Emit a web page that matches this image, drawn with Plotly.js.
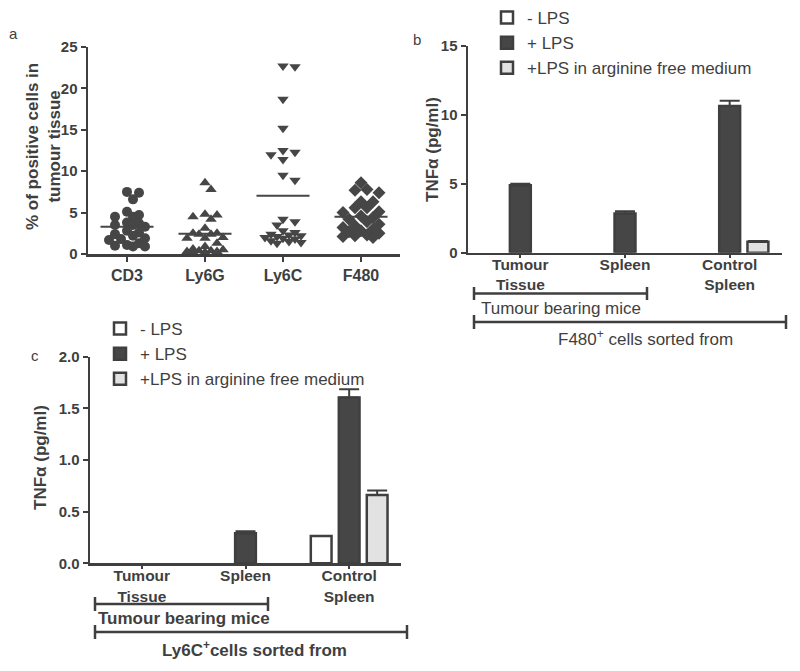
<!DOCTYPE html>
<html><head><meta charset="utf-8">
<script src="https://cdn.plot.ly/plotly-3.0.1.min.js"></script>
<style>html,body{margin:0;padding:0;background:#fff}#chart{width:800px;height:671px}</style>
</head><body><div id="chart"></div>
<script>
// ---------- Panel a data ----------
const aCategories = ['CD3', 'Ly6G', 'Ly6C', 'F480'];
const aCD3  = [7.5, 7.4, 6.6, 5.1, 4.7, 4.5, 4.5, 3.8, 3.7, 3.5, 3.5, 3.3, 2.8, 2.6, 2.4, 2.2, 1.9, 1.8, 1.7, 1.3, 1.1, 1.0, 0.9, 0.9];
const aLy6G = [8.6, 7.8, 4.8, 4.7, 4.5, 4.2, 3.1, 2.5, 2.5, 2.4, 2.4, 2.0, 1.9, 1.9, 1.3, 0.9, 0.6, 0.5, 0.4, 0.4, 0.3, 0.3, 0.2, 0.2];
const aLy6C = [22.7, 22.6, 18.7, 15.2, 12.5, 12.3, 12.0, 11.4, 9.5, 8.9, 4.2, 3.9, 3.5, 2.8, 2.6, 2.4, 2.3, 2.2, 2.1, 2.0, 1.9, 1.8, 1.6, 1.5, 1.4, 1.3];
const aF480 = [8.6, 7.8, 7.7, 7.4, 6.3, 6.3, 5.6, 5.6, 5.1, 5.0, 4.6, 4.4, 4.2, 3.9, 3.6, 3.4, 3.2, 3.0, 2.8, 2.7, 2.5, 2.3, 2.2, 2.1, 2.0];
const aYTicks = [0, 5, 10, 15, 20, 25];

// ---------- Panel b data (F480+ cells) ----------
const bCategories = ['Tumour<br>Tissue', 'Spleen', 'Control<br>Spleen'];
const bMinusLPS   = [null, null, null];
const bPlusLPS    = [4.9, 2.85, 10.65];
const bPlusLPSErr = [0.1, 0.15, 0.38];
const bArgFree    = [null, null, 0.8];
const bArgFreeErr = [0, 0, 0.05];

// ---------- Panel c data (Ly6C+ cells) ----------
const cCategories = ['Tumour<br>Tissue', 'Spleen', 'Control<br>Spleen'];
const cMinusLPS   = [null, null, 0.265];
const cPlusLPS    = [null, 0.29, 1.605];
const cPlusLPSErr = [0, 0.02, 0.08];
const cArgFree    = [null, null, 0.66];
const cArgFreeErr = [0, 0, 0.045];

const legendNames = ['- LPS', '+ LPS', '+LPS in arginine free medium'];

// ---------- styling ----------
const W = 800, H = 671;
const ink = '#3f3f3f';
const dark = '#464646';
const light = '#e2e2e2';
const FONT = '"Liberation Sans", Arial, sans-serif';
const px = v => v / W;
const py = v => 1 - v / H;

// beeswarm offsets computed from values (pixel space)
function swarm(vals, kx, ky, d, step, maxOff) {
  const placed = [];
  const out = [];
  const maxM = Math.floor(maxOff / step);
  vals.forEach(v => {
    const yp = v * ky;
    let best = 0, bestScore = -1;
    for (let k = 0; k <= 2 * maxM; k++) {
      const m = Math.ceil(k / 2) * (k % 2 ? 1 : -1);
      const xo = m * step;
      let minD = Infinity;
      placed.forEach(p => { minD = Math.min(minD, Math.hypot(p[0] - xo, p[1] - yp)); });
      if (minD >= d) { best = xo; break; }
      if (minD > bestScore) { bestScore = minD; best = xo; }
    }
    placed.push([best, yp]);
    out.push(best / kx);
  });
  return out;
}
const kxA = 312 / 4, kyA = 207 / 25;
const mean = a => a.reduce((s, v) => s + v, 0) / a.length;

const series = [aCD3, aLy6G, aLy6C, aF480];
const symbols = ['circle', 'triangle-up', 'triangle-down', 'diamond'];
const traces = [];
series.forEach((vals, i) => {
  const off = swarm(vals, kxA, kyA, 8, 6, 22);
  traces.push({
    type: 'scatter', mode: 'markers', xaxis: 'x', yaxis: 'y', name: aCategories[i],
    x: vals.map((v, j) => i + off[j]), y: vals,
    marker: {symbol: symbols[i], size: 10, color: dark, line: {width: 0}},
    cliponaxis: false, showlegend: false, hoverinfo: 'y'
  });
  const m = mean(vals);
  traces.push({
    type: 'scatter', mode: 'lines', xaxis: 'x', yaxis: 'y',
    x: [i - 0.34, i + 0.34], y: [m, m],
    line: {color: dark, width: 2}, showlegend: false, hoverinfo: 'skip'
  });
});

// bar helper
const fills = ['#ffffff', dark, light];
const offs = [-0.37, -0.1, 0.17];
function bars(seriesArr, errArr, xa, ya, legendId) {
  seriesArr.forEach((vals, s) => {
    const t = {
      type: 'bar', xaxis: xa, yaxis: ya,
      x: vals.map((_, i) => i), y: vals,
      width: 0.2, offset: offs[s],
      name: legendNames[s], legend: legendId,
      marker: {color: fills[s], line: {color: ink, width: 2.5}},
      showlegend: true
    };
    if (errArr[s]) {
      t.error_y = {type: 'data', symmetric: false, array: errArr[s], arrayminus: errArr[s].map(() => 0),
        color: ink, thickness: 2, width: 10};
    }
    traces.push(t);
  });
}
bars([bMinusLPS, bPlusLPS, bArgFree], [null, bPlusLPSErr, bArgFreeErr], 'x2', 'y2', 'legend');
bars([cMinusLPS, cPlusLPS, cArgFree], [null, cPlusLPSErr, cArgFreeErr], 'x3', 'y3', 'legend2');

const bold = s => ({family: FONT, size: s, color: ink, weight: 'bold'});
const axBase = {
  showline: true, linecolor: ink, linewidth: 2.5, ticks: 'outside', ticklen: 5,
  tickwidth: 2, tickcolor: ink, showgrid: false, zeroline: false, tickfont: bold(15), fixedrange: true
};
const line = (x0, y0, x1, y1) => ({type: 'line', xref: 'paper', yref: 'paper', x0: px(x0), x1: px(x1), y0: py(y0), y1: py(y1), line: {color: ink, width: 2.5}});
const note = (text, x, y, font, xanchor, angle) => ({text, xref: 'paper', yref: 'paper', x: px(x), y: py(y),
  xanchor: xanchor || 'center', yanchor: 'middle', showarrow: false, font, textangle: angle || 0});

const layout = {
  width: W, height: H, margin: {l: 0, r: 0, t: 0, b: 0},
  paper_bgcolor: '#fff', plot_bgcolor: 'rgba(0,0,0,0)',
  font: {family: FONT, color: ink},
  bargap: 0,
  xaxis: Object.assign({}, axBase, {domain: [px(88), px(400)], anchor: 'y', range: [-0.5, 3.5],
    tickvals: [0, 1, 2, 3], ticktext: aCategories, tickfont: bold(16)}),
  yaxis: Object.assign({}, axBase, {domain: [py(254), py(47)], anchor: 'x', range: [0, 25], tickvals: aYTicks}),
  xaxis2: Object.assign({}, axBase, {domain: [px(468), px(782)], anchor: 'y2', range: [-0.5, 2.5],
    tickvals: [0, 1, 2], ticktext: bCategories, ticklen: 3, tickfont: bold(15.5), ticklabelstandoff: -7}),
  yaxis2: Object.assign({}, axBase, {domain: [py(252.7), py(46)], anchor: 'x2', range: [0, 15], tickvals: [0, 5, 10, 15]}),
  xaxis3: Object.assign({}, axBase, {domain: [px(90), px(401)], anchor: 'y3', range: [-0.5, 2.5],
    tickvals: [0, 1, 2], ticktext: cCategories, ticklen: 3, tickfont: bold(15.5), ticklabelstandoff: -6}),
  yaxis3: Object.assign({}, axBase, {domain: [py(563.3), py(356.7)], anchor: 'x3', range: [0, 2],
    tickvals: [0, 0.5, 1, 1.5, 2], tickformat: '.1f'}),
  legend: {x: px(487), y: 1, xanchor: 'left', yanchor: 'top', bgcolor: 'rgba(0,0,0,0)',
    font: {family: FONT, size: 17, color: ink}, traceorder: 'normal', tracegroupgap: 0},
  legend2: {x: px(100), y: py(311), xanchor: 'left', yanchor: 'top', bgcolor: 'rgba(0,0,0,0)',
    font: {family: FONT, size: 17, color: ink}, traceorder: 'normal', tracegroupgap: 0},
  shapes: [
    // panel b brackets
    line(474, 293.5, 647, 293.5), line(474, 287, 474, 300), line(647, 287, 647, 300),
    line(474, 322, 786, 322), line(474, 315, 474, 329), line(786, 315, 786, 329),
    // panel c brackets
    line(95, 604, 268, 604), line(95, 597, 95, 611), line(268, 597, 268, 611),
    line(95, 632, 407, 632), line(95, 625, 95, 639), line(407, 625, 407, 639)
  ],
  annotations: [
    note('a', 13, 33, {family: FONT, size: 15, color: ink}),
    note('b', 417, 40, {family: FONT, size: 15, color: ink}),
    note('c', 35, 355, {family: FONT, size: 15, color: ink}),
    // y-axis titles
    note('% of positive cells in<br>tumour tissue', 43, 147, bold(17), 'center', -90),
    note('TNFα (pg/ml)', 432, 150, bold(17), 'center', -90),
    note('TNFα (pg/ml)', 40, 458, bold(17), 'center', -90),
    // bracket labels
    note('Tumour bearing mice', 479, 308, {family: FONT, size: 17, color: ink}, 'left'),
    note('F480<sup>+</sup> cells sorted from', 645, 338, {family: FONT, size: 17, color: ink}),
    note('Tumour bearing mice', 96, 618, bold(17), 'left'),
    note('Ly6C<sup>+</sup>cells sorted from', 255, 649, bold(17))
  ]
};

Plotly.newPlot('chart', traces, layout, {displayModeBar: false, staticPlot: true});
</script>
</body></html>
